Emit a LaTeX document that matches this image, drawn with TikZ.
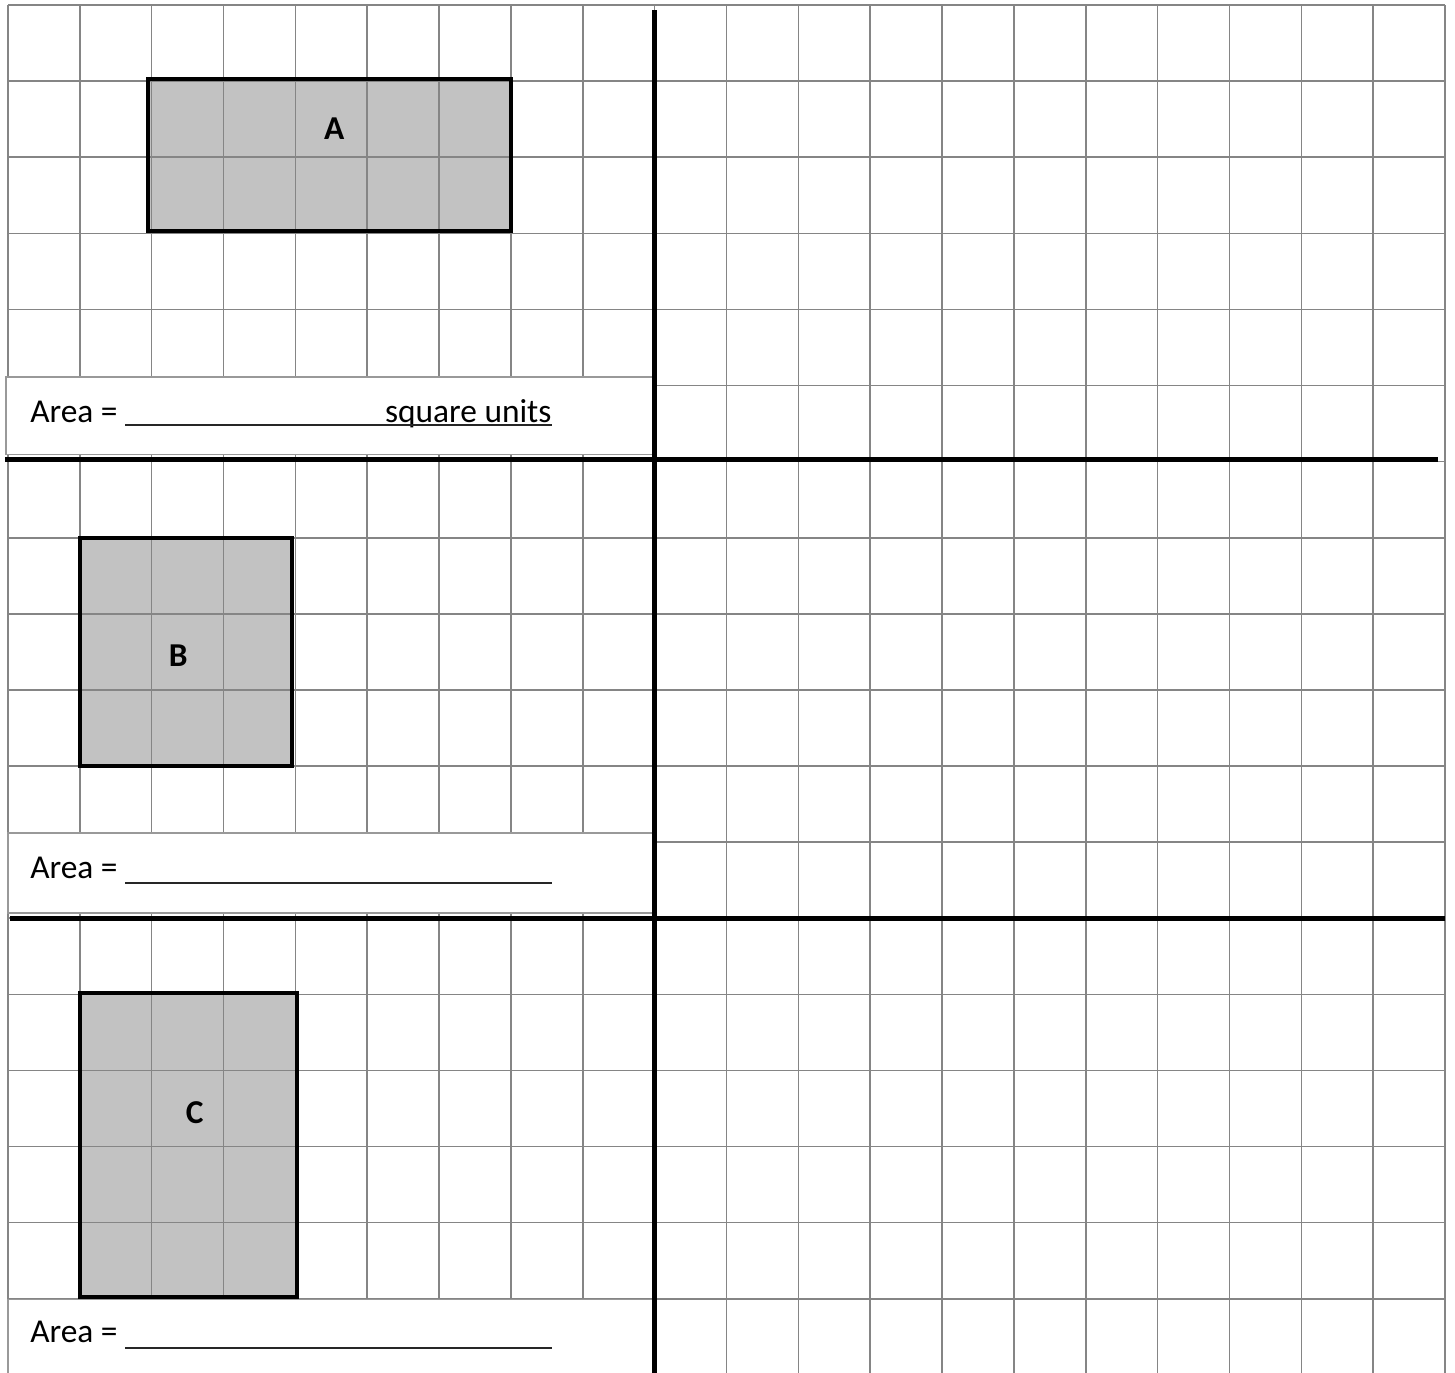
\documentclass[tikz,border=0pt]{standalone}
\usepackage{fontspec}
\setmainfont{Carlito}
\begin{document}
\begin{tikzpicture}[x=1.437cm,y=-1.522cm,
  gridline/.style={draw=black!48,line width=0.9pt},
  heavy/.style={line width=2.6pt},
  shaded/.style={fill=black!24},
  outline/.style={line width=2.3pt},
  areabox/.style={fill=white,draw=black!40,line width=0.8pt},
  answer/.style={draw=black!85,line width=1.1pt},
  lab/.style={inner sep=0pt,font=\fontsize{19}{21}\selectfont\bfseries},
  areatext/.style={inner sep=0pt,font=\fontsize{19}{22}\selectfont}]
\useasboundingbox (-0.111,-0.066) rectangle (20.139,17.963);
\fill[white] (-0.111,-0.066) rectangle (20.139,17.963);
% shaded rectangles
\fill[shaded] (1.95,0.97) rectangle (7,2.97);
\fill[shaded] (1,7) rectangle (3.95,10);
\fill[shaded] (1,12.98) rectangle (4.02,16.98);
% grid
\foreach \i in {0,...,20} \draw[gridline] (\i,0) -- (\i,18.1);
\foreach \j in {0,...,18} \draw[gridline] (0,\j) -- (20,\j);
% answer boxes
\draw[areabox] (-0.03,4.89) rectangle (8.98,5.91);
\draw[areabox] (0,10.88) rectangle (8.98,11.93);
\draw[areabox] (0,17.01) rectangle (8.98,18.2);
% heavy dividing lines
\draw[heavy] (9,0.066) -- (9,18.1);
\draw[heavy] (-0.04,5.97) -- (19.9,5.97);
\draw[heavy] (0.03,12) -- (20,12);
% outlines
\draw[outline] (1.95,0.97) rectangle (7,2.97);
\draw[outline] (1,7) rectangle (3.95,10);
\draw[outline] (1,12.98) rectangle (4.02,16.98);
% labels
\node[lab] (labA) at (4.54,1.62) {A};
\node[lab] (labB) at (2.37,8.55) {B};
\node[lab] (labC) at (2.6,14.55) {C};
% answer lines
\node[areatext,anchor=base west] (areaA) at (0.306,5.48) {Area =};
\node[areatext,anchor=base east] (unitsA) at (7.57,5.48) {square units};
\coordinate (startA) at (1.63,5.52);
\coordinate (endA) at (7.57,5.52);
\draw[answer] (startA) -- (endA);
\node[areatext,anchor=base west] (areaB) at (0.306,11.48) {Area =};
\coordinate (startB) at (1.63,11.54);
\coordinate (endB) at (7.57,11.54);
\draw[answer] (startB) -- (endB);
\node[areatext,anchor=base west] (areaC) at (0.306,17.58) {Area =};
\coordinate (startC) at (1.63,17.65);
\coordinate (endC) at (7.57,17.65);
\draw[answer] (startC) -- (endC);
\end{tikzpicture}
\end{document}
